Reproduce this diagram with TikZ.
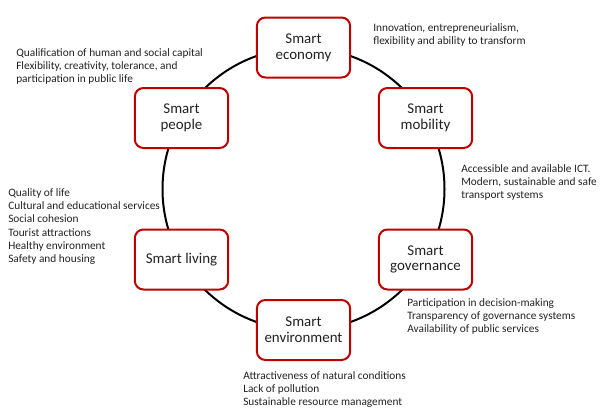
\documentclass[tikz,border=0pt]{standalone}
\usepackage{fontspec}
\setmainfont{Carlito}
\definecolor{boxred}{HTML}{C00000}
\definecolor{txt}{HTML}{222222}
\begin{document}
\begin{tikzpicture}[x=0.75pt,y=-0.75pt,
  smartbox/.style={draw=boxred, line width=1.5pt, fill=white, rounded corners=6.5pt,
    minimum width=70pt, minimum height=45pt, align=center, inner sep=2pt,
    font=\fontsize{11.2}{11.8}\selectfont, text=txt},
  note/.style={align=left, anchor=west, inner sep=0pt,
    font=\fontsize{8.5}{10}\selectfont, text=txt},
  ring/.style={line width=1.5pt, black}]
\useasboundingbox (0,0) rectangle (600,414);
\coordinate (c) at (303.5,189);
\draw[ring] (c) circle[radius=105.75pt];
\node[smartbox] (eco) at (303.5,47.5) {Smart\\economy};
\node[smartbox] (mob) at (425.5,118) {Smart\\mobility};
\node[smartbox] (gov) at (425.5,259.5) {Smart\\governance};
\node[smartbox] (env) at (303.5,330) {Smart\\environment};
\node[smartbox] (liv) at (181.5,259.5) {Smart living};
\node[smartbox] (peo) at (181.5,118) {Smart\\people};
\node[note] (neco) at (373,35) {Innovation, entrepreneurialism,\\flexibility and ability to transform};
\node[note] (npeo) at (16,66.5) {Qualification of human and social capital\\Flexibility, creativity, tolerance, and\\participation in public life};
\node[note] (nmob) at (461,182.5) {Accessible and available ICT.\\Modern, sustainable and safe\\transport systems};
\node[note] (nliv) at (8,226.5) {Quality of life\\Cultural and educational services\\Social cohesion\\Tourist attractions\\Healthy environment\\Safety and housing};
\node[note] (ngov) at (407,316.5) {Participation in decision-making\\Transparency of governance systems\\Availability of public services};
\node[note] (nenv) at (243,389.5) {Attractiveness of natural conditions\\Lack of pollution\\Sustainable resource management};
\end{tikzpicture}
\end{document}
